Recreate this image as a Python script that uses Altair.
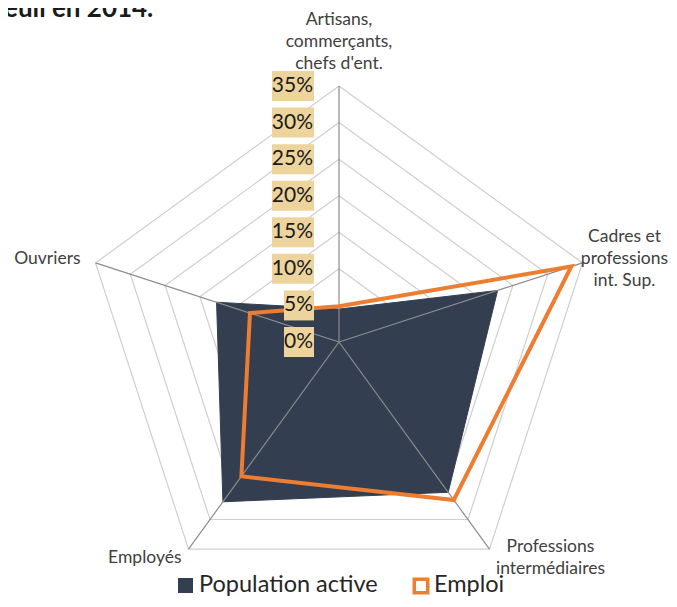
import altair as alt
import pandas as pd

# ---------------- data ----------------
categories = [
    "Artisans, commerçants, chefs d'ent.",
    "Cadres et professions int. Sup.",
    "Professions intermédiaires",
    "Employés",
    "Ouvriers",
]
category_lines = [
    ["Artisans,", "commerçants,", "chefs d'ent."],
    ["Cadres et", "professions", "int. Sup."],
    ["Professions", "intermédiaires"],
    ["Employés"],
    ["Ouvriers"],
]
population_active = [4.5, 22.8, 25.4, 27.0, 17.6]
emploi = [4.9, 33.4, 26.7, 22.7, 12.8]
tick_values = [0, 5, 10, 15, 20, 25, 30, 35]
tick_labels = ["0%", "5%", "10%", "15%", "20%", "25%", "30%", "35%"]
series_names = ["Population active", "Emploi"]
title_fragment = "euil en 2014."

# ---------------- layout ----------------
W, H = 661, 591
CX, CY = 331, 334          # centre of radar in chart pixels
PX = 256 / 35              # pixels per percentage point
XDOM = [-CX / PX, (W - CX) / PX]
YDOM = [-(H - CY) / PX, CY / PX]
N = len(categories)

DARK = "#333F50"
ORANGE = "#ED7D31"
FONT = "Lato"

xs = alt.Scale(domain=XDOM, nice=False, zero=False)
ys = alt.Scale(domain=YDOM, nice=False, zero=False)


def polar(chart):
    return chart.transform_calculate(
        ang=f"datum.idx * 2 * PI / {N}"
    ).transform_calculate(
        px="datum.value * sin(datum.ang)",
        py="datum.value * cos(datum.ang)",
    )


def XY():
    return dict(
        x=alt.X("px:Q", scale=xs, axis=None),
        y=alt.Y("py:Q", scale=ys, axis=None),
    )


# tables
series_rows = []
for name, vals in zip(series_names, [population_active, emploi]):
    for i, v in enumerate(vals):
        series_rows.append({"series": name, "idx": i, "cat": categories[i], "value": v})
series_df = pd.DataFrame(series_rows)

ring_df = pd.DataFrame(
    [{"level": t, "idx": i, "value": t} for t in tick_values[1:] for i in range(N)]
)
spoke_df = pd.DataFrame(
    [{"idx": i, "value": v, "k": k} for i in range(N) for k, v in enumerate([0, tick_values[-1]])]
)
label_df = pd.DataFrame(
    [{"idx": i, "text": category_lines[i], "value": tick_values[-1]} for i in range(N)]
)
tick_df = pd.DataFrame({"v": tick_values, "label": tick_labels})
tick_df["len"] = tick_df["label"].str.len()

# ---------------- layers ----------------
rings = polar(alt.Chart(ring_df)).mark_line(
    interpolate="linear-closed", color="#CFCFCF", strokeWidth=1.2
).encode(**XY(), detail="level:N", order=alt.Order("idx:Q"))

pop_fill = polar(
    alt.Chart(series_df).transform_filter(alt.datum.series == series_names[0])
).mark_line(
    interpolate="linear-closed", fill=DARK, stroke=DARK, strokeWidth=1
).encode(**XY(), order=alt.Order("idx:Q"))

spokes = polar(alt.Chart(spoke_df)).mark_line(
    color="#8C8C8C", strokeWidth=1.2
).encode(**XY(), detail="idx:N", order=alt.Order("k:Q"))

emp_line = polar(
    alt.Chart(series_df).transform_filter(alt.datum.series == series_names[1])
).mark_line(
    interpolate="linear-closed", stroke=ORANGE, strokeWidth=4, strokeJoin="miter"
).encode(**XY(), order=alt.Order("idx:Q"))

# category labels (pixel offsets of the first line from each outer vertex)
label_style = {
    0: dict(align="center", dx=0, dy=-66),
    1: dict(align="center", dx=42, dy=-26),
    2: dict(align="center", dx=61, dy=-2),
    3: dict(align="right", dx=-7, dy=9),
    4: dict(align="right", dx=-15, dy=-4),
}
cat_labels = []
for i, st in label_style.items():
    cat_labels.append(
        polar(alt.Chart(label_df).transform_filter(alt.datum.idx == i)).mark_text(
            font=FONT, fontSize=17.5, color="#404040", baseline="middle",
            lineHeight=22, **st
        ).encode(**XY(), text="text")
    )

# tick label boxes and text on the vertical axis
tick_base = alt.Chart(tick_df).transform_calculate(
    y1="datum.v - 15 / %f" % PX, y2="datum.v + 15 / %f" % PX
)
box_wide = tick_base.transform_filter("datum.len >= 3").mark_rect(color="#EDD49C").encode(
    x=alt.value(264), x2=alt.value(306),
    y=alt.Y("y1:Q", scale=ys, axis=None), y2="y2:Q",
)
box_narrow = tick_base.transform_filter("datum.len < 3").mark_rect(color="#EDD49C").encode(
    x=alt.value(276), x2=alt.value(306),
    y=alt.Y("y1:Q", scale=ys, axis=None), y2="y2:Q",
)
tick_text = alt.Chart(tick_df).mark_text(
    font=FONT, fontSize=21, color="#1A1A1A", align="right", baseline="middle"
).encode(
    x=alt.value(305), y=alt.Y("v:Q", scale=ys, axis=None), text="label:N"
)

# legend
LEG_Y = 577
legend_df = pd.DataFrame({"series": series_names, "pos": [0, 1]})
leg_dark = alt.Chart(legend_df).transform_filter("datum.pos == 0").mark_square(
    size=225, color=DARK, filled=True, opacity=1
).encode(x=alt.value(177.5), y=alt.value(LEG_Y + 0.5))
leg_orange = alt.Chart(legend_df).transform_filter("datum.pos == 1").mark_square(
    size=180, fill="white", stroke=ORANGE, strokeWidth=3.5, filled=False, opacity=1
).encode(x=alt.value(413), y=alt.value(LEG_Y + 1))
leg_text0 = alt.Chart(legend_df).transform_filter("datum.pos == 0").mark_text(
    font=FONT, fontSize=23.5, color="#262626", align="left", baseline="middle"
).encode(x=alt.value(191), y=alt.value(LEG_Y), text="series:N")
leg_text1 = alt.Chart(legend_df).transform_filter("datum.pos == 1").mark_text(
    font=FONT, fontSize=23.5, color="#262626", align="left", baseline="middle"
).encode(x=alt.value(426), y=alt.value(LEG_Y), text="series:N")

title_df = pd.DataFrame({"t": [title_fragment]})
title = alt.Chart(title_df).mark_text(
    font=FONT, fontSize=26, fontWeight="bold", color="#1A1A1A",
    align="left", baseline="alphabetic"
).encode(x=alt.value(-4), y=alt.value(9), text="t:N")

chart = alt.layer(
    rings, pop_fill, spokes, emp_line, *cat_labels,
    box_wide, box_narrow, tick_text,
    leg_dark, leg_orange, leg_text0, leg_text1, title,
).properties(
    width=W, height=H, padding=0, autosize=alt.AutoSizeParams(type="none"),
    background="white",
).configure_view(stroke=None)

chart.save("out.html", embed_options={"renderer": "svg", "actions": False})
